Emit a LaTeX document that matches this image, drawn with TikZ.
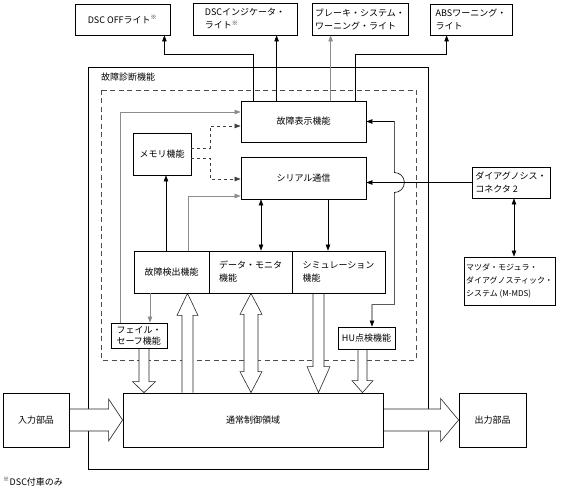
\documentclass[tikz,border=0pt]{standalone}
\usepackage{fontspec}
\setmainfont{Noto Sans CJK JP}
\usepackage{tikz}
\usetikzlibrary{arrows.meta, calc, backgrounds}
\definecolor{linkgray}{HTML}{8C8C8C}

% hollow block arrow: from, tip, half stem, half head, head length
\newcommand{\fatarrow}[5]{%
  \draw[fat] ($(#1)!#3!90:(#2)$) -- ($(#2)!#5!(#1)!#3!-90:(#1)$)
    -- ($(#2)!#5!(#1)!#4!-90:(#1)$) -- (#2)
    -- ($(#2)!#5!(#1)!#4!90:(#1)$) -- ($(#2)!#5!(#1)!#3!90:(#1)$)
    -- ($(#1)!#3!-90:(#2)$);}
% same, with a head at both ends
\newcommand{\fatboth}[5]{%
  \draw[fat] (#1) -- ($(#1)!#5!(#2)!#4!90:(#2)$) -- ($(#1)!#5!(#2)!#3!90:(#2)$)
    -- ($(#2)!#5!(#1)!#3!-90:(#1)$) -- ($(#2)!#5!(#1)!#4!-90:(#1)$) -- (#2)
    -- ($(#2)!#5!(#1)!#4!90:(#1)$) -- ($(#2)!#5!(#1)!#3!90:(#1)$)
    -- ($(#1)!#5!(#2)!#3!-90:(#2)$) -- ($(#1)!#5!(#2)!#4!-90:(#2)$) -- cycle;}

\begin{document}
\begin{tikzpicture}[x=1pt, y=-1pt,
  every node/.style={font=\fontsize{9}{13}\selectfont},
  box/.style={draw, fill=white, line width=0.8pt, inner xsep=2pt, inner ysep=1pt, align=left},
  cbox/.style={box, align=center},
  arr/.style={-{Triangle[length=6pt,width=4.5pt]}, line width=0.6pt},
  arrs/.style={{Triangle[length=6pt,width=4.5pt]}-{Triangle[length=6pt,width=4.5pt]}, line width=0.6pt},
  graylink/.style={draw=linkgray},
  fat/.style={draw=black!85, fill=white, line width=0.6pt}
]
  \useasboundingbox (0,0) rectangle (582,494);

  % lamps
  \node[cbox, minimum width=95pt, minimum height=31pt] (dscoff) at (122.5,19.5) {DSC OFFライト\textsuperscript{※}};
  \node[box, minimum width=104pt, minimum height=32pt] (dscind) at (245,19) {DSCインジケータ・\\ライト\textsuperscript{※}};
  \node[box, minimum width=96pt, minimum height=32pt] (brake) at (360,19) {ブレーキ・システム・\\ワーニング・ライト};
  \node[box, minimum width=82pt, minimum height=31pt] (abs) at (471,19.5) {ABSワーニング・\\ライト};

  \node[anchor=west, inner sep=0pt] (diagtitle) at (101,77) {故障診断機能};

  % diagnosis blocks
  \node[cbox, minimum width=125pt, minimum height=41pt] (disp) at (303.5,121.5) {故障表示機能};
  \node[cbox, minimum width=125pt, minimum height=42pt] (ser) at (303.5,178) {シリアル通信};
  \node[cbox, minimum width=58pt, minimum height=42pt] (mem) at (162,154) {メモリ機能};
  \node[cbox, minimum width=75pt, minimum height=42pt] (det) at (171.5,272) {故障検出機能};
  \node[box, minimum width=83pt, minimum height=42pt] (mon) at (250.5,272) {データ・モニタ\\機能};
  \node[box, minimum width=93pt, minimum height=42pt] (sim) at (338.5,272) {シミュレーション\\機能};
  \node[box, minimum width=56pt, minimum height=25pt, font=\fontsize{9}{11}\selectfont] (fs) at (139,335.5) {フェイル・\\セーフ機能};
  \node[cbox, minimum width=57pt, minimum height=22pt] (hu) at (366.5,338) {HU点検機能};

  \node[cbox, minimum width=260pt, minimum height=54pt] (ctrl) at (253,420) {通常制御領域};
  \node[cbox, minimum width=66pt, minimum height=54pt] (inp) at (36,420) {入力部品};
  \node[cbox, minimum width=67pt, minimum height=54pt] (outp) at (492.5,420) {出力部品};

  \node[box, minimum width=78pt, minimum height=31pt] (conn) at (511,182.5) {ダイアグノシス・\\コネクタ 2};
  \node[box, minimum width=91pt, minimum height=48pt, font=\fontsize{8}{13}\selectfont] (mmds) at (509.5,281) {マツダ・モジュラ・\\ダイアグノスティック・\\システム (M-MDS)};

  \node[anchor=west, inner sep=1pt] (note) at (2,482) {\textsuperscript{※}DSC付車のみ};

  % lamp outputs
  \coordinate (t1) at ($(disp.north west)+(13,0)$);
  \coordinate (t2) at ($(disp.north west)+(36,0)$);
  \coordinate (t3) at ($(disp.north west)+(90,0)$);
  \coordinate (t4) at ($(disp.north west)+(115,0)$);
  \draw[arr] (t1) |- ($(dscoff.south east)+(-6,19)$) -- ($(dscoff.south east)+(-6,0)$);
  \draw[arr] (t2) -- (t2 |- dscind.south);
  \draw[arr, graylink] (t3) -- (t3 |- brake.south);
  \draw[arr] (t4) |- ($(abs.south west)+(17,19)$) -- ($(abs.south west)+(17,0)$);

  % inner links
  \draw[arr, graylink] ($(fs.north west)+(10,0)$) |- ($(disp.west)+(0,-9.5)$);
  \draw[arr, dashed, draw=black!75] ($(mem.east)+(0,-6)$) -- ++(19,0) |- ($(disp.west)+(0,4.5)$);
  \draw[arr, dashed, draw=black!75] ($(mem.east)+(0,4)$) -- ++(19,0) |- ($(ser.west)+(0,1)$);
  \draw[arr, graylink] ($(det.north east)+(-21,0)$) |- ($(ser.west)+(0,18)$);
  \coordinate (memin) at ($(mem.south)+(4,0)$);
  \draw[arr] (memin |- det.north) -- (memin);
  \coordinate (monlink) at ($(mon.north)+(10.5,0)$);
  \draw[arrs] (monlink |- ser.south) -- (monlink);
  \coordinate (simlink) at ($(sim.north)+(-10.5,0)$);
  \draw[arr] (simlink |- ser.south) -- (simlink);
  \coordinate (fsin) at ($(fs.north)+(11,0)$);
  \draw[arr, graylink] (fsin |- det.south) -- (fsin);

  % HU check line, hopping over the connector line
  \coordinate (hop) at ($(disp.east |- conn.west)+(28,0)$);
  \draw[arrs] (disp.east) -- (disp.east -| hop) -- ($(hop)+(0,-10)$)
    arc[start angle=90, end angle=-90, radius=10pt]
    |- ($(hu.north)+(5.5,-22)$) -- ($(hu.north)+(5.5,0)$);

  \draw[arr] (conn.west) -- (conn.west -| ser.east);
  \coordinate (mmdslink) at ($(conn.south)+(3,0)$);
  \draw[arrs] (mmdslink) -- (mmdslink |- mmds.north);

  \begin{scope}[on background layer]
    \draw[line width=0.8pt] (88,67) rectangle (428,469);
    \draw[dash pattern=on 5pt off 3.5pt, line width=0.5pt, draw=black!70] (101,90) rectangle (416,360);
    \coordinate (fsout) at ($(fs.south)+(5,0)$);
    \coordinate (detin) at ($(det.south)+(16,0)$);
    \coordinate (monio) at ($(mon.south)+(0.5,0)$);
    \coordinate (simout) at ($(sim.south)+(-20,0)$);
    \coordinate (huout) at ($(hu.south)+(-4,0)$);
    \fatarrow{fsout}{fsout |- ctrl.north}{5pt}{11.5pt}{11pt}
    \fatarrow{detin |- ctrl.north}{detin}{5.5pt}{10.5pt}{22pt}
    \fatboth{monio}{monio |- ctrl.north}{7pt}{11pt}{21pt}
    \fatarrow{simout}{simout |- ctrl.north}{5.5pt}{11.5pt}{26pt}
    \fatarrow{huout}{huout |- ctrl.north}{4.5pt}{10.5pt}{12pt}
    \fatarrow{inp.east}{ctrl.west}{11pt}{21pt}{14pt}
    \fatarrow{ctrl.east}{outp.west}{11pt}{21.5pt}{18pt}
  \end{scope}
\end{tikzpicture}
\end{document}
